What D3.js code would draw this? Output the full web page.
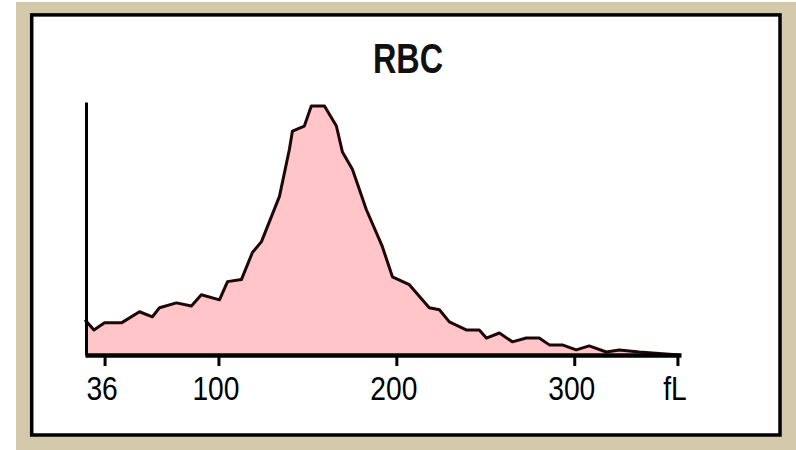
<!DOCTYPE html>
<html>
<head>
<meta charset="utf-8">
<script src="https://cdn.jsdelivr.net/npm/d3@7"></script>
<style>
  body { margin: 0; background: #fff; }
  svg { display: block; }
</style>
</head>
<body>
<script>
// volume (fL) and relative count
fl = [25, 30, 36, 45.5, 55.6, 62.9, 66.9, 76.4, 84.8, 90.4, 100.6, 105.1, 112.9, 119.1, 124.2,
      134.3, 139.9, 141.6, 148.3, 152.2, 159.6, 166.3, 169.7, 175.3, 183.1, 192.1, 197.8,
      207.3, 218.5, 224.2, 229.8, 239.3, 246.6, 250.6, 257.9, 265.2, 273, 280.3, 286,
      293.3, 301.1, 308.4, 318, 325.3, 336.5, 359]
counts = [13.9, 9.9, 12.7, 12.7, 17.1, 15.1, 18.7, 20.6, 19.4, 23.8, 21.8, 29, 29.8, 40.5, 44.8,
      62.7, 81.3, 88.5, 90.5, 98.4, 98.4, 90.5, 80.2, 73.4, 57.5, 42.9, 30.9,
      27.8, 18.7, 17.9, 13.1, 9.9, 9.9, 6.7, 8.7, 5.2, 6.7, 6.7, 4,
      4, 2, 3.6, 1.2, 2, 1.2, 0]
tickVals = [36, 100, 200, 300, 358]
tickLabels = ["36", "100", "200", "300", "fL"]
title = "RBC"

data = fl.map((v, i) => ({fl: v, n: counts[i]}))

width = 796
height = 450

x = d3.scaleLinear()
    .domain([25, 360])
    .range([85, 681])

y = d3.scaleLinear()
    .domain([0, 100])
    .range([355, 102])

const svg = d3.select("body").append("svg")
    .attr("width", width)
    .attr("height", height)

// window frame
svg.append("rect")
    .attr("x", 16).attr("y", 2)
    .attr("width", width - 16).attr("height", height - 2)
    .attr("fill", "#d5c9ab")

svg.append("rect")
    .attr("x", 31.7).attr("y", 14.9)
    .attr("width", 748.3).attr("height", 420.1)
    .attr("fill", "#fff")
    .attr("stroke", "#000")
    .attr("stroke-width", 3.5)

svg.append("text")
    .attr("transform", "translate(408,73) scale(0.77,1)")
    .attr("text-anchor", "middle")
    .attr("font-family", "Liberation Sans, Arial, sans-serif")
    .attr("font-weight", "bold")
    .attr("font-size", 42)
    .attr("fill", "#111")
    .text(title)

const area = d3.area()
    .x(d => x(d.fl))
    .y0(y(0))
    .y1(d => y(d.n))

const line = d3.line()
    .x(d => x(d.fl))
    .y(d => y(d.n))

svg.append("path")
    .datum(data)
    .attr("d", area)
    .attr("fill", "#ffc5c8")

svg.append("path")
    .datum(data)
    .attr("d", line)
    .attr("fill", "none")
    .attr("stroke", "#1e0606")
    .attr("stroke-width", 3)
    .attr("stroke-linejoin", "round")

const xAxis = svg.append("g")
    .attr("transform", `translate(0,${y(0)})`)
    .call(d3.axisBottom(x).tickValues(tickVals).tickSize(11).tickSizeOuter(0)
        .tickFormat((d, i) => tickLabels[i]))

xAxis.select(".domain").attr("stroke", "#000").attr("stroke-width", 4.5)
xAxis.selectAll(".tick line").attr("stroke", "#000").attr("stroke-width", 3)
xAxis.selectAll(".tick text")
    .attr("y", 0).attr("dy", 0)
    .attr("transform", "translate(-3,45) scale(0.83,1)")
    .attr("font-family", "Liberation Sans, Arial, sans-serif")
    .attr("font-size", 34)
    .attr("fill", "#000")

const yAxis = svg.append("g")
    .attr("transform", `translate(${x(25) + 1},0)`)
    .call(d3.axisLeft(y).tickValues([]).tickSizeOuter(0))

yAxis.select(".domain").attr("stroke", "#000").attr("stroke-width", 3)
</script>
</body>
</html>
